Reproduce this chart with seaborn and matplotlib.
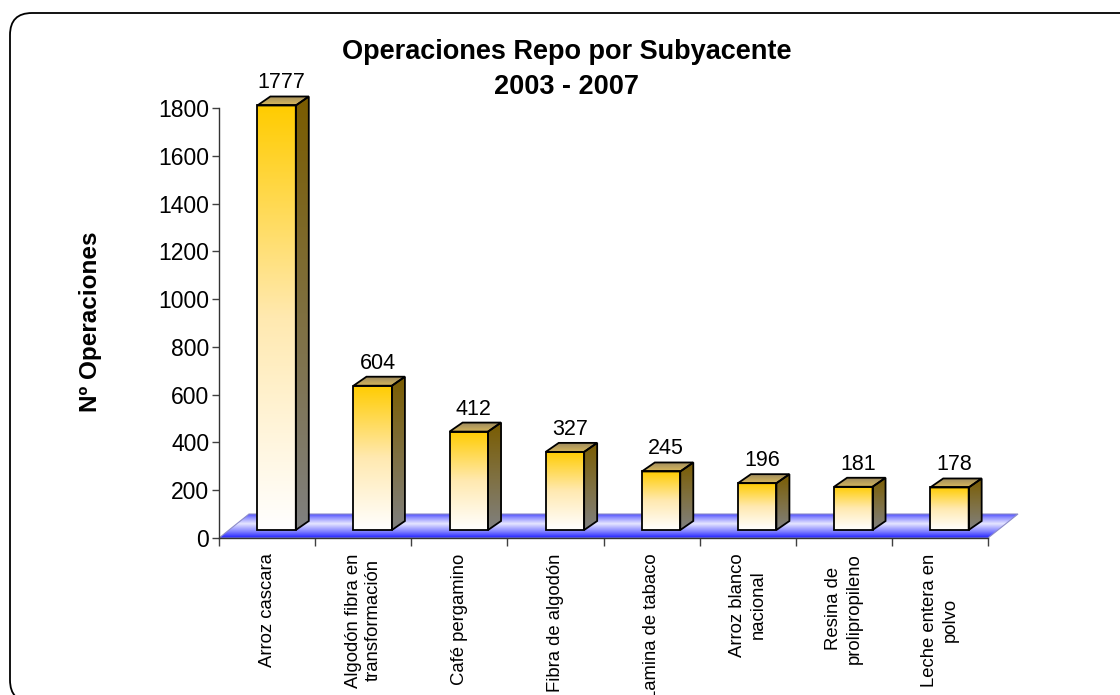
import numpy as np
import matplotlib
matplotlib.use('Agg')
import matplotlib.pyplot as plt
from matplotlib.colors import LinearSegmentedColormap
from matplotlib.patches import Polygon, FancyBboxPatch
import pandas as pd
import seaborn as sns

# datos
subyacentes = ['Arroz cascara', 'Algodón fibra en\ntransformación', 'Café pergamino',
               'Fibra de algodón', 'Lamina de tabaco', 'Arroz blanco\nnacional',
               'Resina de\nprolipropileno', 'Leche entera en\npolvo']
operaciones = [1777, 604, 412, 327, 245, 196, 181, 178]
titulo = 'Operaciones Repo por Subyacente'
periodo = '2003 - 2007'
eje_y = 'Nº Operaciones'
yticks = list(range(0, 1801, 200))

sns.set_theme(style='white')
plt.rcParams['font.family'] = ['Liberation Sans', 'DejaVu Sans']
plt.rcParams['text.color'] = 'black'
plt.rcParams['xtick.color'] = 'black'
plt.rcParams['ytick.color'] = 'black'
plt.rcParams['xtick.labelcolor'] = 'black'
plt.rcParams['ytick.labelcolor'] = 'black'

W, H = 1120, 695
fig = plt.figure(figsize=(W / 100, H / 100), dpi=100)

# geometria del eje en pixeles
x_left, y_base = 219, 538
ppx = (988 - 219) / 8          # pixeles por categoria
ppy = 430 / 1800               # pixeles por operacion
x_extra = 0.4
y_top = 1900
ax = fig.add_axes([x_left / W, 1 - y_base / H,
                   (8 + x_extra) * ppx / W, y_top * ppy / H])

df = pd.DataFrame({'subyacente': subyacentes, 'operaciones': operaciones})
sns.barplot(data=df, x='subyacente', y='operaciones', width=0.4, color='#FFCC00',
            edgecolor='black', linewidth=1.3, ax=ax, zorder=4)

ax.set_xlim(-0.5, 7.5 + x_extra)
ax.set_ylim(0, y_top)

front_cm = LinearSegmentedColormap.from_list('front', ['#FFFFFF', '#FFE9B0', '#FFCC00'])
side_cm = LinearSegmentedColormap.from_list('side', ['#808080', '#7F7040', '#7A5C00'])
top_cm = LinearSegmentedColormap.from_list('top', ['#D8B85C', '#9E8B5E'])
floor_cm = LinearSegmentedColormap.from_list(
    'floor', [(0, '#1E1EFF'), (0.25, '#7A7AFF'), (0.6, '#E6E6FF'), (0.85, '#9090FF'), (1, '#5050FF')])

grad = np.linspace(0, 1, 256).reshape(-1, 1)


def fill_gradient(clip, cmap, ext, z):
    im = ax.imshow(grad, cmap=cmap, aspect='auto', extent=ext, origin='lower',
                   zorder=z, interpolation='bilinear')
    im.set_clip_path(clip)


# suelo 3D
fdx, fdy = 30 / ppx, 24 / ppy
floor = Polygon([(-0.5, 0), (7.5, 0), (7.5 + fdx, fdy), (-0.5 + fdx, fdy)], closed=True,
                facecolor='none', edgecolor='#8C8CC8', linewidth=0.8, zorder=2)
ax.add_patch(floor)
fill_gradient(floor, floor_cm, (-0.5, 7.5 + fdx, 0, fdy), 1)

# barras en 3D
sx, sy = 9.5 / ppx, 8 / ppy
dx, dy = 13 / ppx, 9 / ppy
for p, v in zip(ax.patches[:len(operaciones)], operaciones):
    x0 = p.get_x() + sx
    w = p.get_width()
    h = p.get_height()
    p.set_x(x0)
    p.set_y(sy)
    p.set_facecolor('none')
    fill_gradient(p, front_cm, (x0, x0 + w, sy, sy + h), 3)

    x1 = x0 + w
    side = Polygon([(x1, sy), (x1 + dx, sy + dy), (x1 + dx, sy + h + dy), (x1, sy + h)],
                   closed=True, facecolor='none', edgecolor='black', linewidth=1.3, zorder=4)
    ax.add_patch(side)
    fill_gradient(side, side_cm, (x1, x1 + dx, sy, sy + h + dy), 3)

    top = Polygon([(x0, sy + h), (x1, sy + h), (x1 + dx, sy + h + dy), (x0 + dx, sy + h + dy)],
                  closed=True, facecolor='none', edgecolor='black', linewidth=1.3, zorder=4)
    ax.add_patch(top)
    fill_gradient(top, top_cm, (x0, x1 + dx, sy + h, sy + h + dy), 3)

    ax.annotate(str(v), xy=(x0 + w / 2, sy + h), xytext=(5, 17), textcoords='offset pixels',
                ha='center', va='baseline', fontsize=15.5, color='black')

# ejes
ax.set_xlabel('')
ax.set_ylabel('')
ax.set_yticks(yticks)
ax.set_xticks(range(len(subyacentes)))
ax.set_xticklabels(subyacentes, rotation=90, ha='center', va='top', multialignment='center',
                   linespacing=1.25)
ax.set_xticks(np.arange(-0.5, 8, 1), minor=True)
ax.tick_params(axis='x', which='major', length=0, pad=11, labelsize=13.3)
ax.tick_params(axis='x', which='minor', bottom=True, length=6, width=1, color='#404040')
ax.tick_params(axis='y', left=True, length=5, width=1, color='#404040', pad=2, labelsize=16.5)
for s in ['top', 'right']:
    ax.spines[s].set_visible(False)
ax.spines['left'].set_bounds(0, 1800)
ax.spines['bottom'].set_bounds(-0.5, 7.5)
for s in ['left', 'bottom']:
    ax.spines[s].set_color('#333333')
    ax.spines[s].set_linewidth(1)
    ax.spines[s].set_zorder(5)

# titulos
fig.text(567 / W, 1 - 59 / H, titulo, ha='center', va='baseline', fontsize=19.5, weight='bold')
fig.text(567 / W, 1 - 94 / H, periodo, ha='center', va='baseline', fontsize=19.5, weight='bold')
fig.text(90 / W, 1 - 322 / H, eje_y, rotation=90, ha='center', va='center',
         fontsize=17.5, weight='bold')

# marco redondeado (lado derecho fuera de la imagen)
marco = FancyBboxPatch((10, -7), 1135, 689, boxstyle='round,pad=0,rounding_size=22',
                       transform=None, facecolor='none', edgecolor='black', linewidth=1.3)
fig.patches.append(marco)

fig.savefig('out.png', dpi=100)
